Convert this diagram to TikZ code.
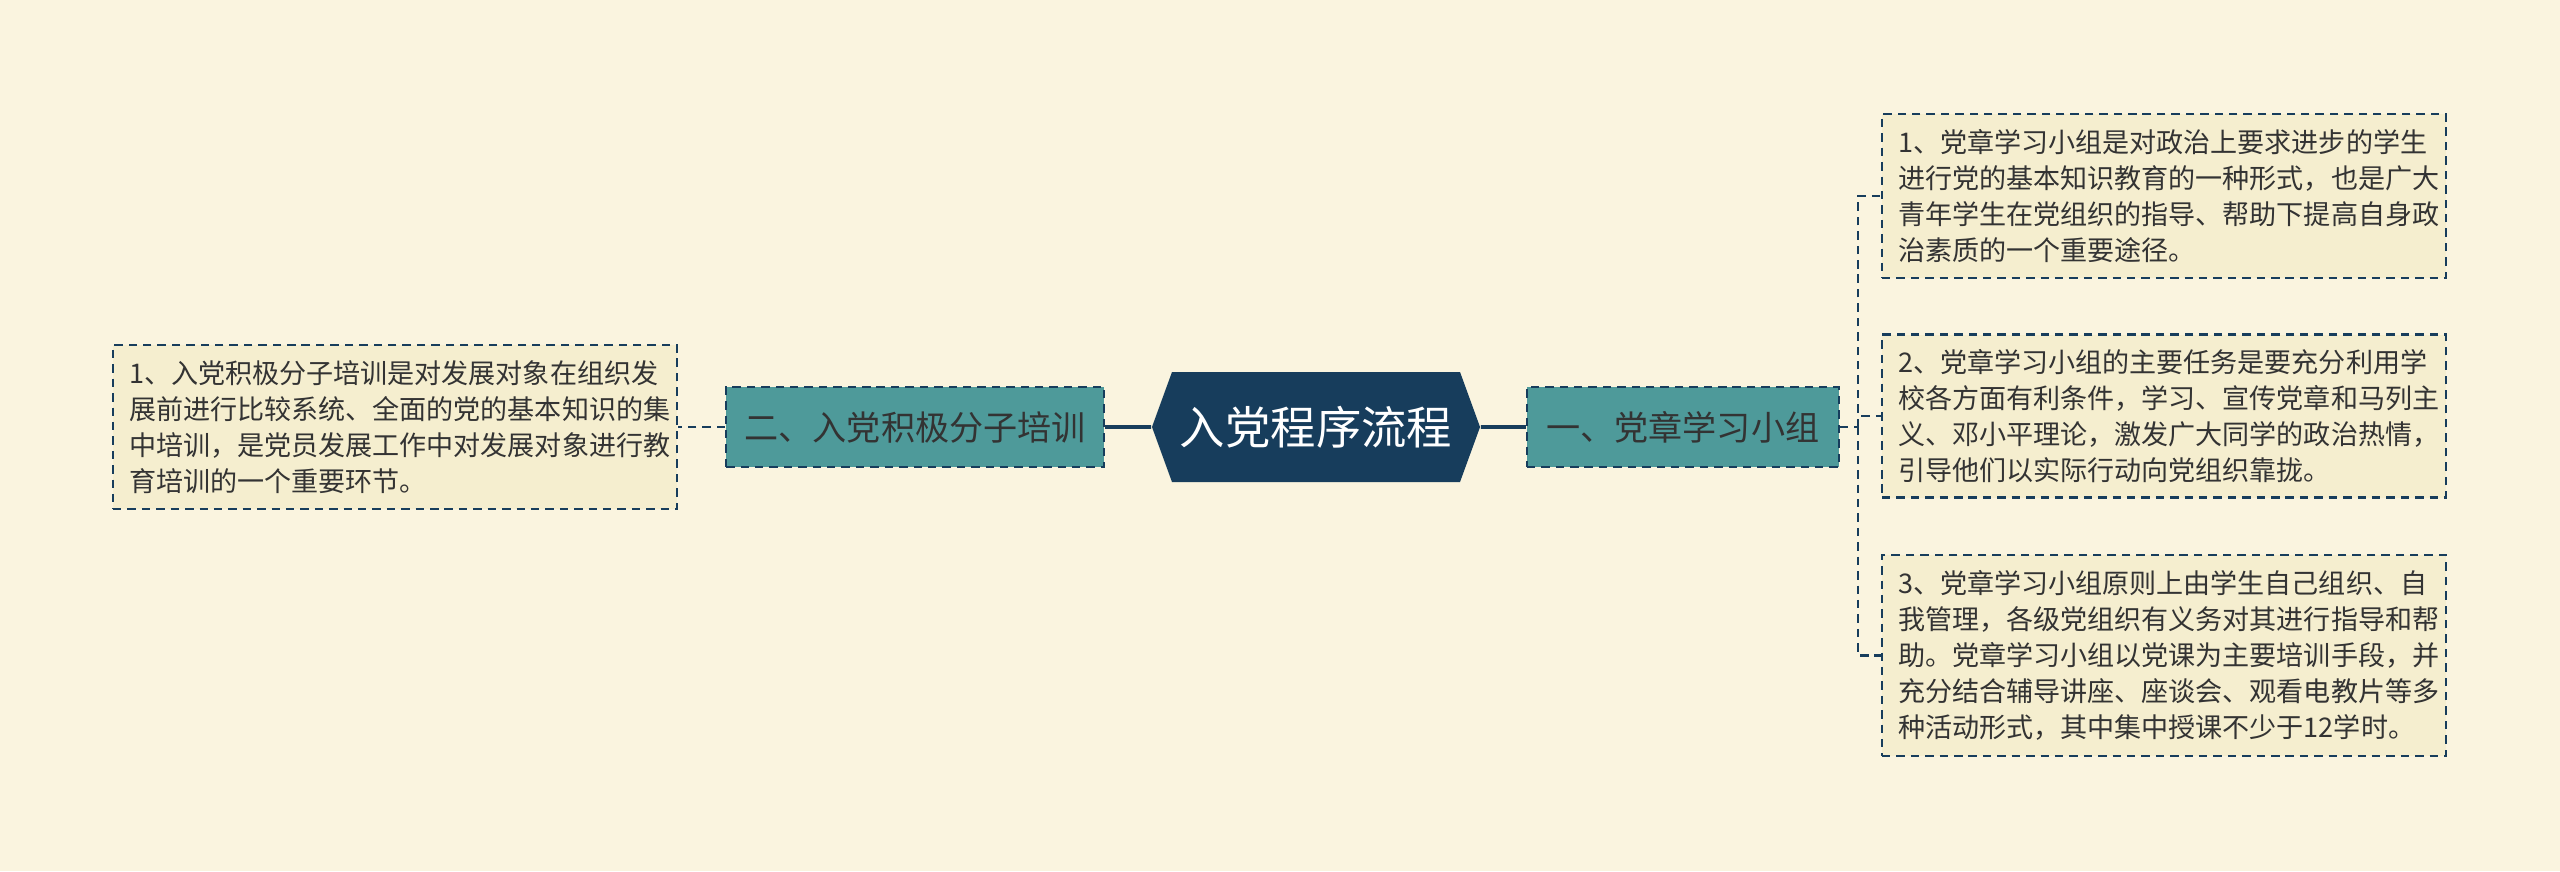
\documentclass[tikz,border=0pt]{standalone}
\usepackage{fontspec}
\newfontfamily\cjk{Noto Sans CJK SC}
\usetikzlibrary{positioning,shapes.symbols}
\definecolor{paper}{HTML}{FAF4DF}
\definecolor{navy}{HTML}{173D5C}
\definecolor{teal}{HTML}{4E9A9A}
\definecolor{note}{HTML}{F5EECF}
\definecolor{ink}{HTML}{333333}

\begin{document}
\begin{tikzpicture}[
    root/.style={shape=signal, signal to=east and west, signal pointer angle=140, fill=navy, text=white,
        minimum width=3.0cm, minimum height=1.1cm, inner xsep=0.08cm, font=\cjk\fontsize{12.9}{15}\selectfont},
    topic/.style={draw=navy, dashed, dash pattern=on 2.4pt off 1.7pt, line width=0.6pt, fill=teal, text=ink,
        minimum height=0.8cm, inner xsep=0.12cm, font=\cjk\fontsize{9.7}{12}\selectfont},
    leaf/.style={draw=navy, dash pattern=on 2.4pt off 1.7pt, line width=0.6pt, fill=note, text=ink, align=left,
        text width=5.32cm, inner xsep=0.16cm, font=\cjk\fontsize{7.7}{10.2}\selectfont},
    link/.style={draw=navy, line width=1.1pt},
    twig/.style={draw=navy, line width=0.6pt, dash pattern=on 2.4pt off 1.7pt}]
\fill[paper] (0,0) rectangle (25.6,-8.71);
\useasboundingbox (0,0) rectangle (25.6,-8.71);
\node[root] (main) at (13.16,-4.27) {入党程序流程};
\node[topic, right=0.45cm of main, minimum width=3.12cm] (group) {一、党章学习小组};
\node[topic, left=0.46cm of main, minimum width=3.78cm] (train) {二、入党积极分子培训};
\node[leaf, left=0.47cm of train, minimum height=1.64cm] (trainnote)
    {1、入党积极分子培训是对发展对象在组织发\\展前进行比较系统、全面的党的基本知识的集\\中培训，是党员发展工作中对发展对象进行教\\育培训的一个重要环节。};
\node[leaf, minimum height=1.64cm] (groupa) at (21.64,-1.96)
    {1、党章学习小组是对政治上要求进步的学生\\进行党的基本知识教育的一种形式，也是广大\\青年学生在党组织的指导、帮助下提高自身政\\治素质的一个重要途径。};
\node[leaf, minimum height=1.63cm] (groupb) at (21.64,-4.16)
    {2、党章学习小组的主要任务是要充分利用学\\校各方面有利条件，学习、宣传党章和马列主\\义、邓小平理论，激发广大同学的政治热情，\\引导他们以实际行动向党组织靠拢。};
\node[leaf, minimum height=2.01cm] (groupc) at (21.64,-6.555)
    {3、党章学习小组原则上由学生自己组织、自\\我管理，各级党组织有义务对其进行指导和帮\\助。党章学习小组以党课为主要培训手段，并\\充分结合辅导讲座、座谈会、观看电教片等多\\种活动形式，其中集中授课不少于12学时。};
\coordinate (fork) at (18.58,-4.27);
\draw[link] (main) -- (group);
\draw[link] (main) -- (train);
\draw[twig] (train) -- (trainnote);
\draw[twig] (group) -- (fork);
\draw[twig] (fork) |- (groupa);
\draw[twig] (fork) |- (groupb);
\draw[twig] (fork) |- (groupc);
\end{tikzpicture}
\end{document}
